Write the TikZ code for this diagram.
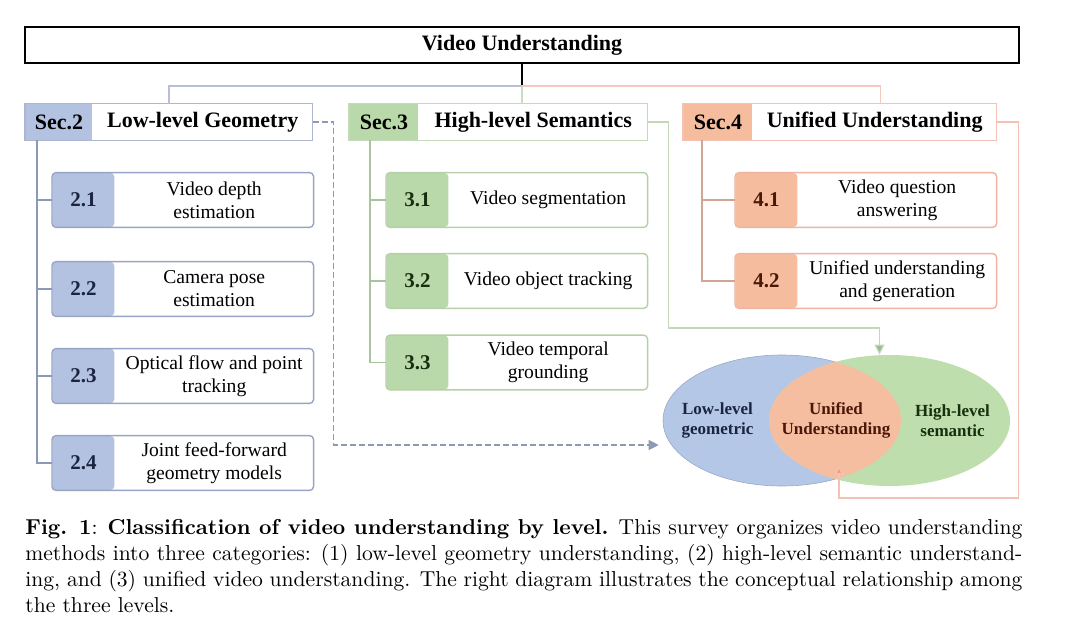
\documentclass[tikz,border=0pt]{standalone}
\usepackage{fontspec}
\usepackage{xcolor}
\usepackage{tikz}
\usetikzlibrary{positioning, arrows.meta, shapes.geometric, calc}
\newfontfamily\diafont{Liberation Serif}
\definecolor{geoFill}{HTML}{B3C2E0}
\definecolor{geoLine}{HTML}{98A4C4}
\definecolor{geoTree}{HTML}{8D98B4}
\definecolor{geoTxt}{HTML}{1B2440}
\definecolor{semFill}{HTML}{BAD9AB}
\definecolor{semLine}{HTML}{B5CFA6}
\definecolor{semTree}{HTML}{A9C49C}
\definecolor{semTxt}{HTML}{16300F}
\definecolor{uniFill}{HTML}{F5BD9E}
\definecolor{uniLine}{HTML}{F0B3A3}
\definecolor{uniTree}{HTML}{D0A595}
\definecolor{uniTxt}{HTML}{4A1808}
\definecolor{geoEll}{HTML}{B4C7E7}
\definecolor{semEll}{HTML}{BFDEAD}
\definecolor{uniEll}{HTML}{F5BEA0}

\begin{document}
\begin{tikzpicture}[x=0.5pt, y=-0.5pt,
    titlebox/.style={draw=black, line width=0.8pt, minimum width=497pt, minimum height=18pt,
      font=\diafont\fontsize{11}{13}\selectfont\bfseries},
    sectag/.style={fill=#1Fill, minimum height=18pt, inner sep=0pt,
      font=\diafont\fontsize{11}{13}\selectfont\bfseries},
    headtxt/.style={minimum height=18pt, inner sep=0pt, font=\diafont\fontsize{11}{13}\selectfont\bfseries},
    headframe/.style={draw=#1Line!80, line width=0.6pt},
    numtag/.style={fill=#1Fill, text=#1Txt, rounded corners=2pt, minimum width=31pt, minimum height=27pt,
      inner sep=0pt, font=\diafont\fontsize{10.5}{12}\selectfont\bfseries},
    itemtxt/.style={minimum width=99pt, minimum height=27pt, inner sep=0pt, align=center,
      font=\diafont\fontsize{9.8}{11.5}\selectfont},
    itemframe/.style={draw=#1Line, rounded corners=2pt, line width=0.7pt},
    branch/.style={draw=#1Tree, line width=0.7pt},
    link/.style={draw=#1Line!70, line width=0.7pt},
    ellTxt/.style={align=center, inner sep=0pt, font=\diafont\fontsize{8.5}{10}\selectfont\bfseries}]
  \useasboundingbox (0,0) rectangle (1080,636);

  % top
  \node[titlebox] (video) at (522,45) {Video Understanding};

  % section headers
  \node[sectag=geo, minimum width=33.5pt, anchor=west] (s2tag) at (25,122) {Sec.2};
  \node[headtxt, minimum width=109.5pt, right=0pt of s2tag] (s2) {Low-level Geometry};
  \node[sectag=sem, minimum width=34.5pt, anchor=west] (s3tag) at (349,122) {Sec.3};
  \node[headtxt, minimum width=114pt, right=0pt of s3tag] (s3) {High-level Semantics};
  \node[sectag=uni, minimum width=34.5pt, anchor=west] (s4tag) at (683,122) {Sec.4};
  \node[headtxt, minimum width=121.5pt, right=0pt of s4tag] (s4) {Unified Understanding};
  \draw[headframe=geo] (s2tag.south west) rectangle (s2.north east);
  \draw[headframe=sem] (s3tag.south west) rectangle (s3.north east);
  \draw[headframe=uni] (s4tag.south west) rectangle (s4.north east);

  % Sec.2 items
  \node[numtag=geo, anchor=west] (n21) at (52,200) {2.1};
  \node[itemtxt, right=0pt of n21] (t21) {Video depth\\estimation};
  \node[numtag=geo, anchor=west] (n22) at (52,289) {2.2};
  \node[itemtxt, right=0pt of n22] (t22) {Camera pose\\estimation};
  \node[numtag=geo, anchor=west] (n23) at (52,376) {2.3};
  \node[itemtxt, right=0pt of n23] (t23) {Optical flow and point\\tracking};
  \node[numtag=geo, anchor=west] (n24) at (52,463) {2.4};
  \node[itemtxt, right=0pt of n24] (t24) {Joint feed-forward\\geometry models};
  \foreach \i in {1,2,3,4}
    \draw[itemframe=geo] (n2\i.south west) rectangle (t2\i.north east);

  % Sec.3 items
  \node[numtag=sem, anchor=west] (n31) at (386,200) {3.1};
  \node[itemtxt, right=0pt of n31] (t31) {Video segmentation};
  \node[numtag=sem, anchor=west] (n32) at (386,281) {3.2};
  \node[itemtxt, right=0pt of n32] (t32) {Video object tracking};
  \node[numtag=sem, anchor=west] (n33) at (386,362.5) {3.3};
  \node[itemtxt, right=0pt of n33] (t33) {Video temporal\\grounding};
  \foreach \i in {1,2,3}
    \draw[itemframe=sem] (n3\i.south west) rectangle (t3\i.north east);

  % Sec.4 items
  \node[numtag=uni, anchor=west] (n41) at (735,200) {4.1};
  \node[itemtxt, right=0pt of n41] (t41) {Video question\\answering};
  \node[numtag=uni, anchor=west] (n42) at (735,281) {4.2};
  \node[itemtxt, right=0pt of n42] (t42) {Unified understanding\\and generation};
  \foreach \i in {1,2}
    \draw[itemframe=uni] (n4\i.south west) rectangle (t4\i.north east);

  % trees
  \foreach \i in {1,2,3,4}
    \draw[branch=geo] ([xshift=6pt]s2tag.south west) |- (n2\i.west);
  \foreach \i in {1,2,3}
    \draw[branch=sem] ([xshift=10.5pt]s3tag.south west) |- (n3\i.west);
  \foreach \i in {1,2}
    \draw[branch=uni] ([xshift=9.5pt]s4tag.south west) |- (n4\i.west);

  % links from the top
  \coordinate (hub) at (522,86);
  \draw[black, line width=0.8pt] (video.south) -- (hub);
  \draw[link=geo] (hub) -| ($(s2tag.north west)!0.5!(s2.north east)$);
  \draw[link=sem] (hub) -- (hub |- s3.north);
  \draw[link=uni] (hub) -| ([xshift=3pt]s4.north);

  % venn
  \node[ellipse, fill=geoEll, draw=geoEll!85!black, line width=0.3pt, minimum width=119pt,
    minimum height=65.5pt, inner sep=0pt] (geo) at (782,420.5) {};
  \node[ellipse, fill=semEll, minimum width=120.5pt, minimum height=65.5pt, inner sep=0pt] (sem) at (889.5,420.5) {};
  \begin{scope}
    \clip (geo.center) ellipse [x radius=59.5pt, y radius=32.75pt];
    \fill[uniEll] (sem.center) ellipse [x radius=60.25pt, y radius=32.75pt];
  \end{scope}
  \node[ellTxt, text=geoTxt] (lowtxt) at (717.5,420.5) {Low-level\\geometric};
  \node[ellTxt, text=uniTxt] (unitxt) at (836,420.5) {Unified\\Understanding};
  \node[ellTxt, text=semTxt] (hightxt) at (952.5,420.5) {High-level\\semantic};

  % links to the venn
  \draw[geoTree, line width=0.6pt, dashed, dash pattern=on 3pt off 1.5pt, -{Triangle[length=5pt, width=5pt, fill=geoFill!80!black]}]
    (s2.east) -- ++(21,0) |- ([xshift=-2pt, yshift=-12.25pt]geo.west);
  \draw[semLine!80, line width=0.6pt, -{Triangle[length=5pt, width=5pt, fill=semFill!85!black]}]
    (s3.east) -- ++(21,0) -- ++(0,206) -| ([xshift=-5pt]sem.north);
  \coordinate (unitip) at (839,466);
  \draw[uniLine!80, line width=0.6pt, -{Triangle[length=4pt, width=4pt, fill=uniFill!80!red]}]
    (s4.east) -- ++(22,0) |- ([yshift=-16pt]unitip) -- (unitip);

  % caption
  \node[anchor=north west, text width=498.5pt, align=justify, inner sep=0pt,
    font=\fontsize{10.8}{13}\selectfont] (cap) at (25,519)
    {\textbf{Fig. 1}: \textbf{Classification of video understanding by level.} This survey organizes video understanding\linebreak
     methods into three categories: (1) low-level geometry understanding, (2) high-level semantic understand-\linebreak
     ing, and (3) unified video understanding. The right diagram illustrates the conceptual relationship among\linebreak
     the three levels.};
\end{tikzpicture}
\end{document}
